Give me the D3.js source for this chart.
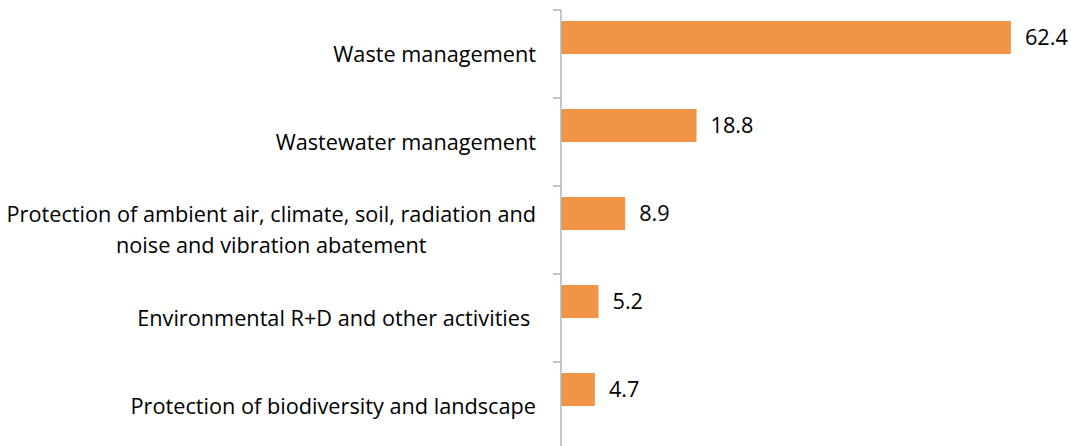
<!DOCTYPE html>
<html>
<head>
<meta charset="utf-8">
<script src="https://cdn.jsdelivr.net/npm/d3@7"></script>
<style>
  html, body { margin: 0; padding: 0; background: #fff; }
  svg { display: block; }
  text { font-family: "Open Sans", sans-serif; fill: #000; white-space: pre; }
</style>
</head>
<body>
<div id="chart"></div>
<script>
const categories = [
  ['Waste management'],
  ['Wastewater management'],
  ['Protection of ambient air, climate, soil, radiation and', 'noise and vibration abatement'],
  ['Environmental R+D and other activities '],
  ['Protection of biodiversity and landscape']
];
const values = [62.4, 18.8, 8.9, 5.2, 4.7];

const width = 1071, height = 446;
const axisX = 561;
const fontSize = '21.7px';

const svg = d3.select('#chart')
  .append('svg')
  .attr('width', width)
  .attr('height', height);

const keys = categories.map((d, i) => i);

const y = d3.scaleBand()
  .domain(keys)
  .range([10, 450])
  .padding(0);

const x = d3.scaleLinear()
  .domain([0, 70])
  .range([axisX, axisX + 70 * 7.21]);

// bars
svg.selectAll('.bar')
  .data(values)
  .enter().append('rect')
  .attr('class', 'bar')
  .attr('x', x(0))
  .attr('y', (d, i) => y(i) + y.bandwidth() * 0.125)
  .attr('width', d => x(d) - x(0))
  .attr('height', y.bandwidth() * 0.375)
  .attr('fill', '#F09547');

// value labels
svg.selectAll('.val')
  .data(values)
  .enter().append('text')
  .attr('class', 'val')
  .attr('x', d => x(d) + 14)
  .attr('y', (d, i) => y(i) + y.bandwidth() * 0.3125)
  .attr('dy', '0.35em')
  .attr('font-size', fontSize)
  .text(d => d.toFixed(1));

// axis line + ticks at band boundaries
svg.append('line')
  .attr('x1', axisX).attr('x2', axisX)
  .attr('y1', y.range()[0]).attr('y2', y.range()[1])
  .attr('stroke', '#B5B5B5')
  .attr('stroke-width', 1.5);

svg.selectAll('.tick')
  .data(keys)
  .enter().append('line')
  .attr('class', 'tick')
  .attr('x1', axisX - 8).attr('x2', axisX)
  .attr('y1', d => y(d)).attr('y2', d => y(d))
  .attr('stroke', '#B5B5B5')
  .attr('stroke-width', 1.5);

// category labels: block right-aligned to the axis, lines centered within block
const lineH = 31;
const right = axisX - 25;
svg.selectAll('.cat')
  .data(categories)
  .enter().append('text')
  .attr('class', 'cat')
  .attr('font-size', fontSize)
  .attr('text-anchor', 'middle')
  .each(function(d, i) {
    const g = d3.select(this);
    const spans = g.selectAll('tspan')
      .data(d)
      .enter().append('tspan')
      .attr('y', (t, j) => y(i) + y.bandwidth() / 2 + (j - (d.length - 1) / 2) * lineH)
      .attr('dy', '0.35em')
      .text(t => t);
    const maxW = d3.max(spans.nodes(), n => n.getComputedTextLength());
    spans.attr('x', right - maxW / 2);
  });
</script>
</body>
</html>
